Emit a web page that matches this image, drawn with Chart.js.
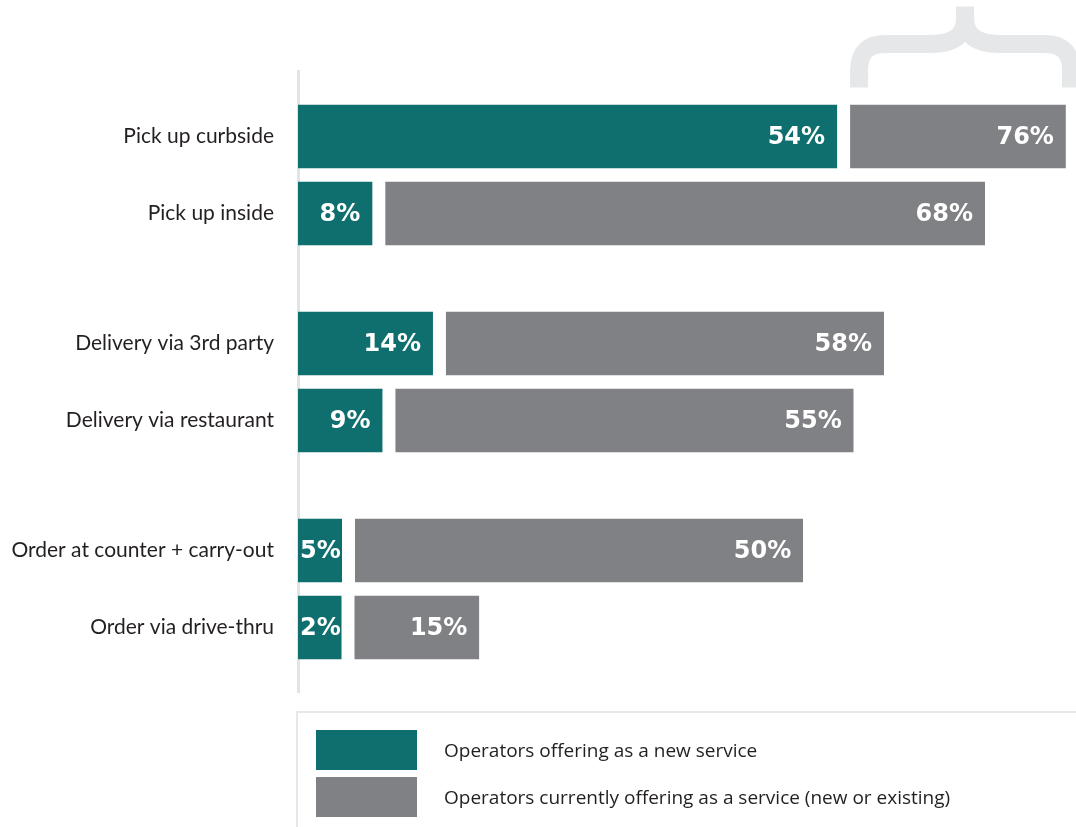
<!DOCTYPE html>
<html>
<head>
<meta charset="utf-8">
<script src="https://cdn.jsdelivr.net/npm/chart.js@4"></script>
<style>
  html, body { margin: 0; padding: 0; background: #fff; }
  #wrap { position: relative; width: 1076px; height: 827px; overflow: hidden; }
  #legend { position: absolute; left: 296px; top: 711px; width: 820px; height: 140px;
            border-top: 2px solid #e8e8e8; border-left: 2px solid #e8e8e8;
            font-family: 'Open Sans', sans-serif; font-size: 19px; color: #231f20; }
  .item { position: absolute; left: 18px; height: 40px; display: flex; align-items: center; white-space: nowrap; }
  .sw { width: 101px; height: 40px; margin-right: 27px; }
</style>
</head>
<body>
<div id="wrap">
  <canvas id="chart"></canvas>
  <div id="legend"></div>
</div>
<script>
const services = [
  'Pick up curbside', 'Pick up inside',
  'Delivery via 3rd party', 'Delivery via restaurant',
  'Order at counter + carry-out', 'Order via drive-thru'
];
const newService = [54, 8, 14, 9, 5, 2];
const currentService = [76, 68, 58, 55, 50, 15];
const seriesLabels = ['Operators offering as a new service', 'Operators currently offering as a service (new or existing)'];
const seriesColors = ['#0f6e6e', '#808185'];

// services come in pairs: each pair is one category, the two rows are two stacks
const groups = [0, 1, 2];
const groupLabels = groups.map(g => [services[2 * g], services[2 * g + 1]]);
const rowOf = (arr, r) => groups.map(g => arr[2 * g + r]);

const datasets = [];
[0, 1].forEach(r => {
  const nv = rowOf(newService, r);
  const cv = rowOf(currentService, r);
  datasets.push({
    label: seriesLabels[0], kind: 'new', row: r, stack: 'row' + r,
    data: nv,
    backgroundColor: seriesColors[0],
    borderColor: '#ffffff',
    borderWidth: { top: 0, right: 6.5, bottom: 0, left: 0 },
    borderSkipped: false,
    minBarLength: 50
  });
  datasets.push({
    label: seriesLabels[1], kind: 'cur', row: r, stack: 'row' + r,
    data: cv.map((v, i) => v - nv[i]),
    backgroundColor: seriesColors[1],
    borderColor: '#ffffff',
    borderWidth: { top: 0, right: 0, bottom: 0, left: 6.5 },
    borderSkipped: false
  });
});

const valueLabels = {
  id: 'valueLabels',
  afterDatasetsDraw(chart) {
    const ctx = chart.ctx;
    ctx.save();
    ctx.font = 'bold 24px "DejaVu Sans"';
    ctx.fillStyle = '#ffffff';
    ctx.textBaseline = 'middle';
    ctx.textAlign = 'left';
    chart.data.datasets.forEach((ds, i) => {
      chart.getDatasetMeta(i).data.forEach((bar, g) => {
        const idx = 2 * g + ds.row;
        const text = (ds.kind === 'new' ? newService[idx] : currentService[idx]) + '%';
        const w = ctx.measureText(text).width;
        const start = Math.min(bar.base, bar.x) + (ds.kind === 'new' ? 0 : 6.5);
        const end = Math.max(bar.base, bar.x) - (ds.kind === 'new' ? 6.5 : 0);
        const x = Math.max(end - 12 - w, start + 2);
        ctx.fillText(text, x, bar.y + 1);
      });
    });
    ctx.restore();
  }
};

const brace = {
  id: 'brace',
  afterDraw(chart) {
    const { ctx, chartArea, scales: { x } } = chart;
    const left = x.getPixelForValue(newService[0]) + 6.5 + 9;
    const right = chartArea.right + 4 - 9;
    const mid = (left + right) / 2;
    const top = chartArea.top;
    const yLeg = top + 16, yBar = top - 27.5, yTip = top - 65;
    const r = 26;
    ctx.save();
    ctx.strokeStyle = '#e6e7e8';
    ctx.lineWidth = 18;
    ctx.lineJoin = 'round';
    ctx.beginPath();
    ctx.moveTo(left, yLeg);
    ctx.lineTo(left, yBar + r);
    ctx.quadraticCurveTo(left, yBar, left + r, yBar);
    ctx.lineTo(mid - 34, yBar);
    ctx.quadraticCurveTo(mid, yBar, mid, yBar - 26);
    ctx.lineTo(mid, yTip);
    ctx.moveTo(mid, yBar - 26);
    ctx.quadraticCurveTo(mid, yBar, mid + 34, yBar);
    ctx.lineTo(right - r, yBar);
    ctx.quadraticCurveTo(right, yBar, right, yBar + r);
    ctx.lineTo(right, yLeg);
    ctx.stroke();
    ctx.restore();
  }
};

new Chart(document.getElementById('chart'), {
  type: 'bar',
  data: { labels: groupLabels, datasets: datasets },
  options: {
    indexAxis: 'y',
    responsive: true,
    maintainAspectRatio: false,
    animation: false,
    devicePixelRatio: 1,
    categoryPercentage: 0.744,
    barPercentage: 0.831,
    layout: { padding: { top: 71.5, bottom: 134.5, left: 0, right: 0 } },
    plugins: { legend: { display: false }, tooltip: { enabled: false } },
    scales: {
      x: { display: false, stacked: true, min: 0, max: 77 },
      y: {
        grid: { display: false, drawTicks: false },
        border: { display: true, color: '#e3e3e3', width: 3 },
        ticks: { color: '#231f20', padding: 24, font: { family: 'Lato', size: 21, lineHeight: '77px' } },
        afterFit(scale) {
          scale.width = 298;
          scale.paddingTop = 0;
          scale.paddingBottom = 0;
        }
      }
    }
  },
  plugins: [valueLabels, brace]
});

const legend = document.getElementById('legend');
seriesLabels.forEach((lab, i) => {
  const item = document.createElement('div');
  item.className = 'item';
  item.style.top = (17 + i * 47) + 'px';
  item.innerHTML = '<div class="sw" style="background:' + seriesColors[i] + '"></div><span>' + lab + '</span>';
  legend.appendChild(item);
});
</script>
</body>
</html>
